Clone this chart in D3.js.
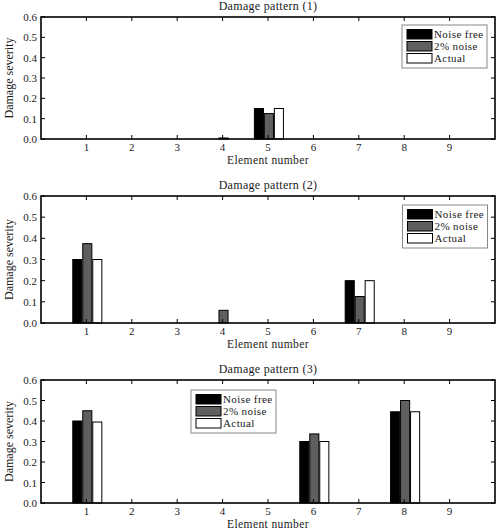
<!DOCTYPE html>
<html>
<head>
<meta charset="utf-8">
<script src="https://cdn.jsdelivr.net/npm/d3@7"></script>
<style>
    body { margin: 0; background: #fff; }
    svg text { font-family: "Liberation Serif", "DejaVu Serif", serif; fill: #1a1a1a; }
</style>
</head>
<body>
<div id="chart"></div>
<script>
// datos
const elements = [1, 2, 3, 4, 5, 6, 7, 8, 9];
const seriesNames = ["Noise free", "2% noise", "Actual"];
const seriesColors = ["#000000", "#5f5f5f", "#ffffff"];
const yTicks = [0.0, 0.1, 0.2, 0.3, 0.4, 0.5, 0.6];

const pattern1NoiseFree = [0, 0, 0, 0, 0.15, 0, 0, 0, 0];
const pattern1Noise = [0, 0, 0, 0.005, 0.125, 0, 0, 0, 0];
const pattern1Actual = [0, 0, 0, 0, 0.15, 0, 0, 0, 0];

const pattern2NoiseFree = [0.3, 0, 0, 0, 0, 0, 0.2, 0, 0];
const pattern2Noise = [0.375, 0, 0, 0.06, 0, 0, 0.125, 0, 0];
const pattern2Actual = [0.3, 0, 0, 0, 0, 0, 0.2, 0, 0];

const pattern3NoiseFree = [0.4, 0, 0, 0, 0, 0.3, 0, 0.445, 0];
const pattern3Noise = [0.45, 0, 0, 0, 0, 0.337, 0, 0.5, 0];
const pattern3Actual = [0.395, 0, 0, 0, 0, 0.3, 0, 0.445, 0];

const W = 501, H = 528;
const svg = d3.select("#chart").append("svg")
    .attr("width", W)
    .attr("height", H);

class DamagePanel {
    constructor(svg, title, values, top, bottom, legendPos) {
        this.g = svg.append("g");
        this.x = d3.scaleLinear([0, 10], [41, 495]);
        this.y = d3.scaleLinear([0, 0.6], [bottom, top]);
        this.title = title;
        this.values = values;
        this.legendPos = legendPos;
        this.draw();
    }

    draw() {
        const x = this.x, y = this.y, g = this.g;
        const [x0, x1] = x.range();
        const [y0, y1] = y.range();

        // barras: una por serie y elemento
        const bw = 0.2;
        const offsets = [-0.30, -0.08, 0.14];
        const bars = [];
        this.values.forEach((vals, s) => {
            vals.forEach((v, i) => {
                if (v > 0) bars.push({ s, e: elements[i], v });
            });
        });
        g.selectAll("rect.bar")
            .data(bars)
            .enter().append("rect")
            .classed("bar", true)
            .attr("x", d => x(d.e + offsets[d.s]))
            .attr("width", d => x(d.e + offsets[d.s] + bw) - x(d.e + offsets[d.s]))
            .attr("y", d => y(d.v))
            .attr("height", d => y(0) - y(d.v))
            .style("fill", d => seriesColors[d.s])
            .style("stroke", "#000")
            .style("stroke-width", 1);

        // ticks hacia dentro en los cuatro lados
        const tl = 4;
        g.selectAll("line.xt")
            .data(elements)
            .enter().append("line")
            .attr("x1", d => x(d)).attr("x2", d => x(d))
            .attr("y1", y0).attr("y2", y0 - tl)
            .style("stroke", "#000");
        g.selectAll("line.xt2")
            .data(elements)
            .enter().append("line")
            .attr("x1", d => x(d)).attr("x2", d => x(d))
            .attr("y1", y1).attr("y2", y1 + tl)
            .style("stroke", "#000");
        g.selectAll("line.yt")
            .data(yTicks)
            .enter().append("line")
            .attr("x1", x0).attr("x2", x0 + tl)
            .attr("y1", d => y(d)).attr("y2", d => y(d))
            .style("stroke", "#000");
        g.selectAll("line.yt2")
            .data(yTicks)
            .enter().append("line")
            .attr("x1", x1).attr("x2", x1 - tl)
            .attr("y1", d => y(d)).attr("y2", d => y(d))
            .style("stroke", "#000");

        // marco
        g.append("rect")
            .attr("x", x0).attr("y", y1)
            .attr("width", x1 - x0).attr("height", y0 - y1)
            .style("fill", "none")
            .style("stroke", "#000")
            .style("stroke-width", 1.6);

        // etiquetas de los ticks
        g.selectAll("text.xl")
            .data(elements)
            .enter().append("text")
            .attr("x", d => x(d))
            .attr("y", y0 + 11.5)
            .attr("text-anchor", "middle")
            .style("font-size", "11px")
            .text(d => d);
        g.selectAll("text.yl")
            .data(yTicks)
            .enter().append("text")
            .attr("x", x0 - 4)
            .attr("y", d => y(d) + 4)
            .attr("text-anchor", "end")
            .style("font-size", "11px")
            .text(d => d3.format(".1f")(d));

        // titulo y ejes
        g.append("text")
            .attr("x", (x0 + x1) / 2)
            .attr("y", y1 - 7)
            .attr("text-anchor", "middle")
            .style("font-size", "12px")
            .style("letter-spacing", "0.3px")
            .text(this.title);
        g.append("text")
            .attr("x", (x0 + x1) / 2)
            .attr("y", y0 + 24.5)
            .attr("text-anchor", "middle")
            .style("font-size", "11.5px")
            .style("letter-spacing", "0.4px")
            .text("Element number");
        g.append("text")
            .attr("transform", "translate(13," + ((y0 + y1) / 2) + ") rotate(-90)")
            .attr("text-anchor", "middle")
            .style("font-size", "12px")
            .text("Damage severity");

        // leyenda
        const [lx, ly] = this.legendPos;
        const leg = g.append("g").attr("transform", "translate(" + lx + "," + ly + ")");
        leg.append("rect")
            .attr("width", 85).attr("height", 43)
            .style("fill", "#fff")
            .style("stroke", "#888")
            .style("stroke-width", 1);
        const items = leg.selectAll("g.item")
            .data(seriesNames)
            .enter().append("g")
            .attr("transform", (d, i) => "translate(5," + (4.5 + i * 12) + ")");
        items.append("rect")
            .attr("width", 25).attr("height", 9.5)
            .style("fill", (d, i) => seriesColors[i])
            .style("stroke", "#000");
        items.append("text")
            .attr("x", 27)
            .attr("y", 8.5)
            .style("font-size", "11px")
            .style("letter-spacing", "0.4px")
            .text(d => d);
    }
}

new DamagePanel(svg, "Damage pattern (1)",
    [pattern1NoiseFree, pattern1Noise, pattern1Actual], 17, 139, [402, 25]);
new DamagePanel(svg, "Damage pattern (2)",
    [pattern2NoiseFree, pattern2Noise, pattern2Actual], 196, 323, [402.5, 205]);
new DamagePanel(svg, "Damage pattern (3)",
    [pattern3NoiseFree, pattern3Noise, pattern3Actual], 380, 503, [191, 390]);
</script>
</body>
</html>
